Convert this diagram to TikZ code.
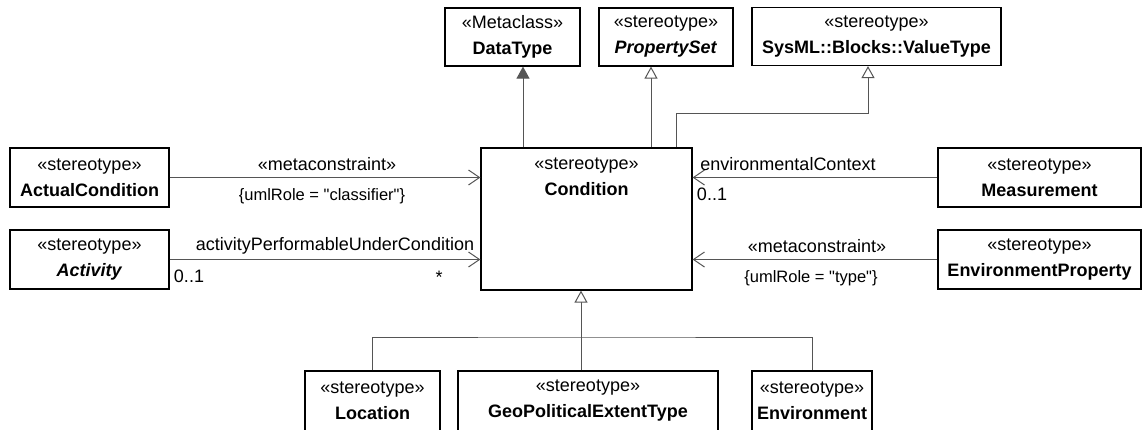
\documentclass[tikz,border=0pt]{standalone}
\usepackage{fontspec}
\setmainfont{Liberation Sans}
\usepackage{tikz}
\usetikzlibrary{positioning}
\usetikzlibrary{arrows.meta}
\definecolor{linegray}{RGB}{85,85,85}

\begin{document}
\begin{tikzpicture}[x=1pt, y=-1pt,
    umlbox/.style={draw=black, line width=1.2pt, inner sep=0pt, align=center,
        font=\fontsize{18}{26}\selectfont},
    assoc/.style={draw=linegray, line width=1pt, -{Straight Barb[length=11pt, width=15pt]}},
    gen/.style={draw=linegray, line width=1pt, -{Triangle[open, length=12pt, width=13pt, fill=white]}},
    ext/.style={draw=linegray, line width=1pt, -{Triangle[length=12pt, width=13pt, fill=linegray]}},
    lbl/.style={inner sep=0pt, font=\fontsize{18}{22}\selectfont},
    cons/.style={inner sep=0pt, font=\fontsize{16.5}{20}\selectfont}]
        \useasboundingbox (0,0) rectangle (1143,429);
        \clip (0,0) rectangle (1143,429);

        % top row
        \node[umlbox, minimum width=135, minimum height=58] (datatype) at (512.5,37) {«Metaclass»\\\textbf{DataType}};
        \node[umlbox, minimum width=134, minimum height=58] (propset) at (666,37) {«stereotype»\\\textbf{\textit{PropertySet}}};
        \node[umlbox, minimum width=249, minimum height=58] (valuetype) at (876.5,36.5) {«stereotype»\\\textbf{SysML::Blocks::ValueType}};

        % middle row
        \node[umlbox, minimum width=211, minimum height=142] (cond) at (586.5,219) {};
        \node[umlbox, draw=none, below=10pt of cond.north] (condtext) {«stereotype»\\\textbf{Condition}};
        \node[umlbox, minimum width=159, minimum height=59] (actual) at (89.5,177.5) {«stereotype»\\\textbf{ActualCondition}};
        \node[umlbox, minimum width=159, minimum height=59] (activity) at (89.5,259.5) {«stereotype»\\\textbf{\textit{Activity}}};
        \node[umlbox, minimum width=203, minimum height=59] (measure) at (1039.5,177.5) {«stereotype»\\\textbf{Measurement}};
        \node[umlbox, minimum width=203, minimum height=59] (envprop) at (1039.5,259.5) {«stereotype»\\\textbf{EnvironmentProperty}};

        % bottom row
        \node[umlbox, minimum width=135, minimum height=60] (location) at (372.5,401) {«stereotype»\\\textbf{Location}};
        \node[umlbox, minimum width=260, minimum height=60] (geo) at (588,401) {«stereotype»\\\textbf{GeoPoliticalExtentType}};
        \node[umlbox, minimum width=120, minimum height=60] (environment) at (812,401) {«stereotype»\\\textbf{Environment}};

        % generalizations
        \draw[ext] ([xshift=10.5pt]datatype.south |- cond.north) -- ([xshift=10.5pt]datatype.south);
        \draw[gen] ([xshift=-15pt]propset.south |- cond.north) -- ([xshift=-15pt]propset.south);
        \draw[gen] ([xshift=-16pt]cond.north east) |- ([xshift=-8.5pt, yshift=-47pt]valuetype.south) -- ([xshift=-8.5pt]valuetype.south);
        \coordinate (gjoin) at (581,337);
        \draw[gen] (gjoin |- geo.north) -- (gjoin |- cond.south);
        \draw[draw=linegray, line width=1pt] (location) |- (gjoin) -| (environment);

        % associations
        \draw[assoc] (actual) -- (actual -| cond.west);
        \draw[assoc] (activity) -- (activity -| cond.west);
        \draw[assoc] (measure) -- (measure -| cond.east);
        \draw[assoc] (envprop) -- (envprop -| cond.east);

        % labels
        \node[lbl] (mc1) at (327,164) {«metaconstraint»};
        \node[cons] (role1) at (322,196) {\{umlRole = \textquotedbl classifier\textquotedbl\}};
        \node[lbl] (apuc) at (335,246) {activityPerformableUnderCondition};
        \node[lbl] (actmul) at (189,276) {0..1};
        \node[lbl] (condmul) at (439,277) {*};
        \node[lbl] (envctx) at (788,164) {environmentalContext};
        \node[lbl] (envmul) at (712,194) {0..1};
        \node[lbl] (mc2) at (817,246) {«metaconstraint»};
        \node[cons] (role2) at (811,278) {\{umlRole = \textquotedbl type\textquotedbl\}};
    \end{tikzpicture}
\end{document}
